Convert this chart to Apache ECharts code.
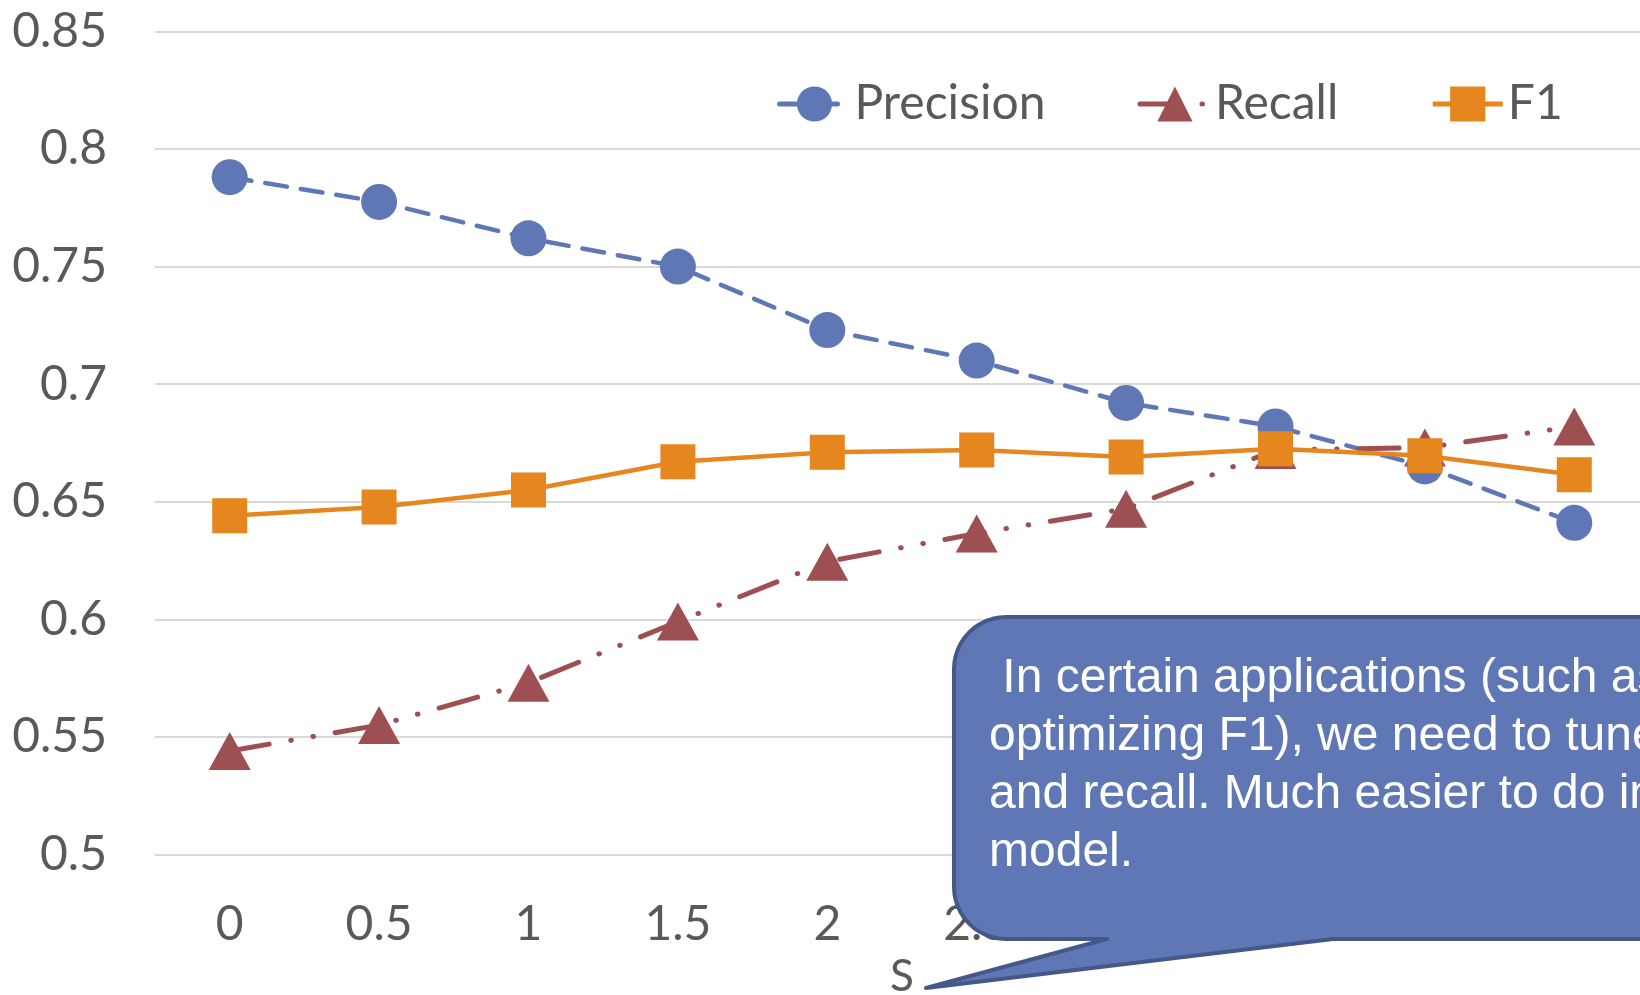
<!DOCTYPE html>
<html>
<head>
<meta charset="utf-8">
<title>Precision / Recall / F1</title>
<script src="https://cdn.jsdelivr.net/npm/echarts@6/dist/echarts.min.js"></script>
<style>
  html, body { margin: 0; padding: 0; background: #ffffff; }
  #chart { width: 1640px; height: 995px; }
</style>
</head>
<body>
<div id="chart"></div>
<script>
// Smoothing values on the x axis
const categories = ['0', '0.5', '1', '1.5', '2', '2.5', '3', '3.5', '4', '4.5'];

// Metric values per smoothing setting
const precision = [0.788, 0.7775, 0.762, 0.750, 0.723, 0.710, 0.692, 0.682, 0.665, 0.641];
const recall    = [0.544, 0.555, 0.573, 0.599, 0.6245, 0.6365, 0.647, 0.672, 0.673, 0.682];
const f1        = [0.644, 0.6477, 0.655, 0.667, 0.671, 0.672, 0.669, 0.6725, 0.6695, 0.6615];

// Y axis range
const yMin = 0.5;
const yMax = 0.85;
const yStep = 0.05;

const xAxisName = 'S';
const calloutLines = [
  ' In certain applications (such as',
  'optimizing F1), we need to tune',
  'and recall. Much easier to do in',
  'model.'
];

const BLUE = '#6077b6';
const RED = '#9e4f51';
const ORANGE = '#e6861f';
const TEXT = '#595959';
const FONT = 'Lato, "Noto Sans", sans-serif';

// Outline of the speech bubble: rounded box with a pointer toward the axis name
function bubbleOutline() {
  const L = 954, T = 617, R = 1700, B = 939, r = 52;
  const pts = [];
  const arc = (cx, cy, a0, a1) => {
    const n = 12;
    for (let i = 0; i <= n; i++) {
      const a = a0 + (a1 - a0) * i / n;
      pts.push([cx + r * Math.cos(a), cy + r * Math.sin(a)]);
    }
  };
  arc(L + r, T + r, Math.PI, Math.PI * 1.5);       // top-left corner
  pts.push([R, T], [R, B]);
  pts.push([1333, B], [926, 988], [1107, B]);       // pointer
  arc(L + r, B - r, Math.PI * 0.5, Math.PI);        // bottom-left corner
  return pts;
}

const chart = echarts.init(document.getElementById('chart'), null, { renderer: 'canvas' });

chart.setOption({
  backgroundColor: '#ffffff',
  animation: false,
  grid: { left: 155, top: 31.4, width: 1494, height: 823, outerBoundsMode: 'none' },
  legend: {
    left: 772,
    top: 75,
    itemWidth: 70,
    itemHeight: 44,
    itemGap: 92,
    lineStyle: { width: 5 },
    textStyle: { color: TEXT, fontSize: 48, fontFamily: FONT },
    data: ['Precision', 'Recall', 'F1']
  },
  xAxis: {
    type: 'category',
    data: categories,
    boundaryGap: true,
    name: xAxisName,
    nameLocation: 'middle',
    nameGap: 100,
    nameTextStyle: { color: TEXT, fontSize: 44, fontFamily: FONT },
    axisLine: { show: false },
    axisTick: { show: false },
    axisLabel: { color: TEXT, fontSize: 48, fontFamily: FONT, margin: 46 }
  },
  yAxis: {
    type: 'value',
    min: yMin,
    max: yMax,
    interval: yStep,
    axisLine: { show: false },
    axisTick: { show: false },
    axisLabel: {
      color: TEXT, fontSize: 48, fontFamily: FONT, margin: 48,
      formatter: v => String(+v.toFixed(2))
    },
    splitLine: { lineStyle: { color: '#d9d9d9', width: 2 } }
  },
  series: [
    {
      name: 'Precision',
      type: 'line',
      data: precision,
      symbol: 'circle',
      symbolSize: 36,
      itemStyle: { color: BLUE },
      lineStyle: { color: BLUE, width: 4.5, type: [22, 14], cap: 'round' }
    },
    {
      name: 'Recall',
      type: 'line',
      data: recall,
      symbol: 'triangle',
      symbolSize: [42, 38],
      itemStyle: { color: RED },
      // long dash, dot, dot
      lineStyle: { color: RED, width: 5, type: [40, 22, 0.5, 22, 0.5, 22], cap: 'round' }
    },
    {
      name: 'F1',
      type: 'line',
      data: f1,
      symbol: 'rect',
      symbolSize: 35,
      itemStyle: { color: ORANGE },
      lineStyle: { color: ORANGE, width: 4.5 }
    }
  ],
  graphic: [
    {
      type: 'polygon',
      z: 100,
      shape: { points: bubbleOutline() },
      style: { fill: '#6077b5', stroke: '#44598a', lineWidth: 4, lineJoin: 'round' }
    },
    {
      type: 'text',
      z: 101,
      x: 989,
      y: 650,
      style: {
        text: calloutLines.join('\n'),
        fill: '#ffffff',
        font: '48px "Liberation Sans", Arial, sans-serif',
        lineHeight: 58,
        verticalAlign: 'top',
        align: 'left'
      }
    }
  ]
});
</script>
</body>
</html>
